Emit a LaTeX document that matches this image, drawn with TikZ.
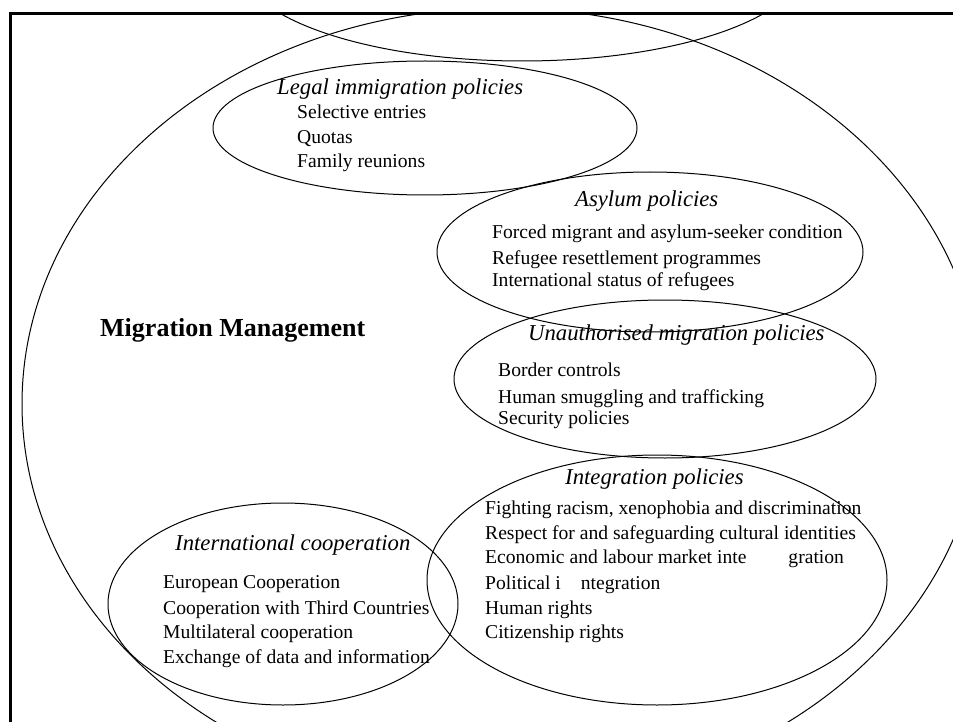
\documentclass[tikz,border=0pt]{standalone}
\usepackage{fontspec}
\setmainfont{Liberation Serif}
\usetikzlibrary{shapes.geometric}

\tikzset{
  field/.style={draw,ellipse,line width=1pt,inner sep=0pt,outer sep=0pt},
  head/.style={anchor=base west,inner sep=0pt,font=\fontsize{22.7}{27}\selectfont\itshape},
  item/.style={anchor=base west,inner sep=0pt,font=\fontsize{19.6}{25}\selectfont},
}

\begin{document}
\begin{tikzpicture}[x=1pt,y=-1pt]
\useasboundingbox (0,0) rectangle (953,722);
% ellipses, cut at the frame
\begin{scope}
\clip (10,14) rectangle (953,722);
\node[field,minimum width=566pt,minimum height=198pt] (top) at (522,-38) {};
\node[field,minimum width=960pt,minimum height=792pt] (mm) at (502,404) {};
\node[field,minimum width=424pt,minimum height=134pt] (legal) at (425,128) {};
\node[field,minimum width=426pt,minimum height=160pt] (asylum) at (650,252) {};
\node[field,minimum width=422pt,minimum height=158pt] (unauth) at (665,379) {};
\node[field,minimum width=460pt,minimum height=250pt] (integr) at (657,580) {};
\node[field,minimum width=350pt,minimum height=202pt] (intl) at (283,604) {};
\end{scope}
\draw[line width=3pt] (10,722) -- (10,14) -- (953,14);

\node[anchor=base west,inner sep=0pt,font=\fontsize{26}{30}\selectfont\bfseries] (mmtitle) at (100,336) {Migration Management};

% legal immigration
\node[head] (legal-t) at (277,95) {Legal immigration policies};
\foreach \y/\t [count=\i] in {119/Selective entries,144/Quotas,168/Family reunions}
  \node[item] (legal-\i) at (297,\y) {\t};

% asylum
\node[head] (asylum-t) at (575,207) {Asylum policies};
\foreach \y/\t [count=\i] in {238/Forced migrant and asylum-seeker condition,264/Refugee resettlement programmes,286/International status of refugees}
  \node[item] (asylum-\i) at (492,\y) {\t};

% unauthorised migration
\node[head] (unauth-t) at (528,340) {Unauthorised migration policies};
\foreach \y/\t [count=\i] in {376/Border controls,403/Human smuggling and trafficking,424/Security policies}
  \node[item] (unauth-\i) at (498,\y) {\t};

% integration
\node[head] (integr-t) at (565,484) {Integration policies};
\foreach \y/\t [count=\i] in {514/{Fighting racism, xenophobia and discrimination},539/Respect for and safeguarding cultural identities,563/Economic and labour market inte\hspace{42pt}gration,589/Political i\hspace{20pt}ntegration,614/Human rights,638/Citizenship rights}
  \node[item] (integr-\i) at (485,\y) {\t};

% international cooperation
\node[head] (intl-t) at (175,550) {International cooperation};
\foreach \y/\t [count=\i] in {588/European Cooperation,614/Cooperation with Third Countries,638/Multilateral cooperation,663/Exchange of data and information}
  \node[item] (intl-\i) at (163,\y) {\t};
\end{tikzpicture}
\end{document}
